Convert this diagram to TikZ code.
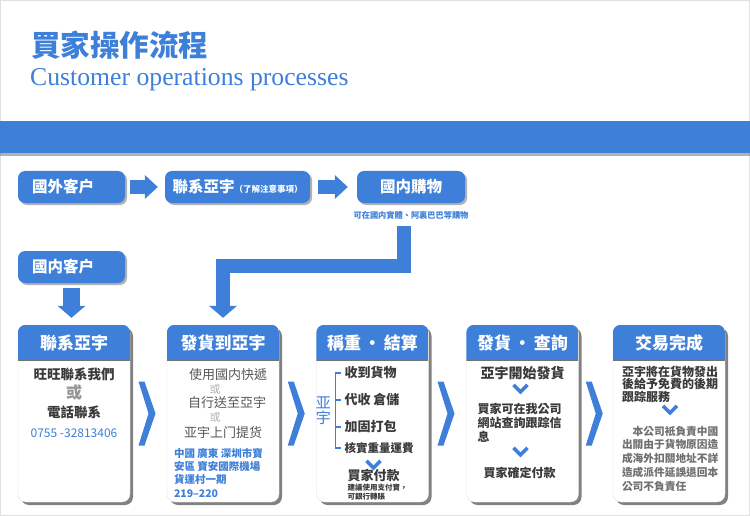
\documentclass[tikz,border=0pt]{standalone}
\usepackage{fontspec}
\setmainfont{Liberation Serif}
\newfontfamily\cjk{Noto Sans CJK TC}
\usepackage{xcolor}
\usepackage{tikz}
\usetikzlibrary{positioning,calc,shadows,arrows.meta}
\definecolor{flowblue}{RGB}{61,127,217}
\definecolor{darktext}{RGB}{58,58,58}
\definecolor{softgray}{RGB}{150,150,150}
\definecolor{notegray}{RGB}{112,112,112}

\tikzset{
  topbox/.style={fill=flowblue, rounded corners=7pt, minimum height=32pt, text=white,
    font=\cjk\bfseries\fontsize{15.5}{15.5}\selectfont,
    drop shadow={shadow xshift=2pt, shadow yshift=-2pt, fill=black!60, opacity=.5}},
  leftbox/.style={minimum width=107pt, text width=79pt, inner xsep=14pt, align=left},
  rowarrow/.style={draw=flowblue, line width=14pt, -{Triangle[width=24pt, length=13pt, line width=0pt]}},
  downarrow/.style={draw=flowblue, line width=17pt, -{Triangle[width=28pt, length=12pt, line width=0pt]}},
  bendarrow/.style={draw=flowblue, line width=14pt, line join=miter, -{Triangle[width=28pt, length=12pt, line width=0pt]}},
  card/.style={fill=white, draw=black!12, rounded corners=8pt, minimum width=112pt, minimum height=177pt,
    drop shadow={shadow xshift=3pt, shadow yshift=-3pt, fill=black!70, opacity=.7}},
  cardhead/.style={text=white, font=\cjk\bfseries\fontsize{17}{17}\selectfont},
  bodytext/.style={inner sep=0pt, text=darktext, font=\cjk\bfseries\fontsize{13.5}{16}\selectfont},
  plaintext/.style={inner sep=0pt, text=darktext!85, font=\cjk\fontsize{13}{16}\selectfont},
  ortext/.style={inner sep=0pt, text=softgray, font=\cjk\bfseries\fontsize{16}{16}\selectfont},
  smallor/.style={inner sep=0pt, text=black!30, font=\cjk\fontsize{11}{11}\selectfont},
  bluetext/.style={inner sep=0pt, text=flowblue, font=\cjk\bfseries\fontsize{10.5}{13.3}\selectfont, align=left},
  itemtext/.style={inner sep=0pt, anchor=west, text=darktext, font=\cjk\bfseries\fontsize{13}{13}\selectfont},
  tinytext/.style={inner sep=0pt, anchor=west, text=darktext, font=\cjk\bfseries\fontsize{7.5}{8}\selectfont},
  blocktext/.style={inner sep=0pt, anchor=north west, align=left, text=darktext, font=\cjk\bfseries\fontsize{12}{14}\selectfont},
  graytext/.style={inner sep=0pt, anchor=north west, align=left, text=notegray, font=\cjk\bfseries\fontsize{10.7}{13.7}\selectfont},
  vmarkline/.style={draw=flowblue, line width=3.5pt, line join=miter},
  bracketline/.style={draw=flowblue, line width=1.6pt}
}
\newcommand\vmark[1]{\draw[vmarkline] ($#1+(-7,-4)$) -- ++(7,7) -- ++(7,-7);}

\begin{document}
\begin{tikzpicture}[x=1pt,y=-1pt]
\useasboundingbox (0,0) rectangle (750,516);
\draw[black!12] (0.5,0.5) rectangle (749.5,515.5);

% title and band
\node[anchor=west, inner sep=0pt, text=flowblue, font=\cjk\bfseries\fontsize{29.5}{30}\selectfont] (title) at (31,45) {買家操作流程};
\node[anchor=base west, inner sep=0pt, text=flowblue, font=\fontsize{25.7}{26}\selectfont] (subtitle) at (30,86) {Customer operations processes};
\fill[flowblue, drop shadow={shadow xshift=0pt, shadow yshift=-3pt, fill=black!60, opacity=.5}] (0,121) rectangle (750,153);

% first row
\node[topbox, leftbox] (abroad) at (71.5,187) {國外客户};
\node[topbox, minimum width=145pt] (contact) at (237.5,187) {聯系亞宇{\fontsize{8.5}{9}\selectfont（了解注意事項）}};
\node[topbox, minimum width=108pt] (buy) at (411,187) {國内購物};
\node[inner sep=0pt, text=flowblue, font=\cjk\bfseries\fontsize{8.2}{9}\selectfont] (buynote) at (411,215) {可在國内實體、阿裏巴巴等購物};
\node[topbox, leftbox] (local) at (71.5,267) {國内客户};

% cards
\foreach \i/\cx/\t in {1/74/聯系亞宇, 2/223/發貨到亞宇, 3/372.5/稱重\hspace{3pt}・\hspace{3pt}結算,
                       4/522.5/發貨\hspace{3pt}・\hspace{3pt}查詢, 5/669/交易完成} {
  \node[card] (c\i) at (\cx,413.5) {};
  \begin{scope}
    \clip[rounded corners=8pt] (c\i.south west) rectangle (c\i.north east);
    \fill[flowblue] (c\i.north west) rectangle ([yshift=-35pt]c\i.north east);
    \draw[black!55, line width=1.2pt] ([yshift=-35.6pt]c\i.north west) -- ([yshift=-35.6pt]c\i.north east);
  \end{scope}
  \node[cardhead] (h\i) at ([yshift=-18pt]c\i.north) {\t};
}

% connectors
\draw[rowarrow] ([xshift=5pt]abroad.east) -- ([xshift=-7pt]contact.west);
\draw[rowarrow] ([xshift=8pt]contact.east) -- ([xshift=-9pt]buy.west);
\coordinate (lstart) at ([xshift=-7.5pt,yshift=-7pt]buynote.south);
\draw[bendarrow] (lstart) |- ([yshift=59pt]c2.north) -- ([yshift=7pt]c2.north);
\draw[downarrow] ([yshift=-5pt]local.south) -- ([yshift=7pt]local.south |- c1.north);
\foreach \a/\b in {1/2,2/3,3/4,4/5}
  \fill[flowblue] ($(c\a.east)!0.5!(c\b.west)$) ++(-10,-32) -- ++(6,0) -- ++(11,32)
    -- ++(-11,32) -- ++(-6,0) -- ++(10,-32) -- cycle;

% card 1
\node[bodytext] (wangwang) at ($(c1.north)+(0,50)$) {旺旺聯系我們};
\node[ortext] (or1) at ($(c1.north)+(0,68)$) {或};
\node[bodytext] (phone) at ($(c1.north)+(0,88)$) {電話聯系};
\node[inner sep=0pt, text=flowblue, font=\cjk\fontsize{12}{12}\selectfont] (number) at ($(c1.north)+(0,108)$) {0755 -32813406};

% card 2
\node[plaintext] (express) at ($(c2.north)+(5,50)$) {使用國内快遞};
\node[smallor] (or2) at ($(c2.north)+(-8,65)$) {或};
\node[plaintext] (self) at ($(c2.north)+(4,78)$) {自行送至亞宇};
\node[smallor] (or3) at ($(c2.north)+(-8,93)$) {或};
\node[plaintext] (pickup) at ($(c2.north)+(0,108)$) {亚宇上门提货};
\node[bluetext, anchor=north west] (address) at ($(c2.north west)+(7,123)$) {中國 廣東 深圳市寶\\安區 寶安國際機場\\貨運村一期\\219–220};

% card 3
\node[inner sep=0pt, align=center, text=flowblue, font=\cjk\fontsize{15}{15}\selectfont] (yayu) at ($(c3.north west)+(7,86)$) {亚\\宇};
\draw[bracketline] ($(c3.north west)+(25,48)$) -- ++(-6,0) -- ++(0,75) -- ++(6,0);
\draw[bracketline] ($(c3.north west)+(19,75)$) -- ++(6,0);
\draw[bracketline] ($(c3.north west)+(19,102)$) -- ++(6,0);
\node[itemtext] (receive) at ($(c3.north west)+(28,48)$) {收到貨物};
\node[itemtext] (store) at ($(c3.north west)+(28,75)$) {代收 倉儲};
\node[itemtext] (pack) at ($(c3.north west)+(28,102)$) {加固打包};
\node[itemtext, font=\cjk\bfseries\fontsize{11.5}{12}\selectfont] (weigh) at ($(c3.north west)+(28,123)$) {核實重量運費};
\vmark{(c3.north)+(1,140)}
\node[itemtext] (pay) at ($(c3.north west)+(31,151)$) {買家付款};
\node[tinytext] (alipay) at ($(c3.north west)+(31,163)$) {建議使用支付寶，};
\node[tinytext] (bank) at ($(c3.north west)+(31,172)$) {可銀行轉賬};

% card 4
\node[bodytext, font=\cjk\bfseries\fontsize{14}{14}\selectfont] (ship) at ($(c4.north)+(0,48)$) {亞宇開始發貨};
\vmark{(c4.north)+(-2,64)}
\node[blocktext] (track) at ($(c4.north west)+(11,78)$) {買家可在我公司\\網站查詢跟踪信\\息};
\vmark{(c4.north)+(-2,127)}
\node[bodytext, font=\cjk\bfseries\fontsize{12}{12}\selectfont] (confirm) at ($(c4.north)+(-3,148)$) {買家確定付款};

% card 5
\node[blocktext, font=\cjk\bfseries\fontsize{12}{12.5}\selectfont] (service) at ($(c5.north west)+(9,41)$) {亞宇將在貨物發出\\後給予免費的後期\\跟踪服務};
\vmark{(c5.north)+(1,85)}
\node[graytext] (notice) at ($(c5.north west)+(9,101)$) {　本公司衹負責中國\\出關由于貨物原因造\\成海外扣關地址不詳\\造成派件延誤退回本\\公司不負責任};
\end{tikzpicture}
\end{document}
